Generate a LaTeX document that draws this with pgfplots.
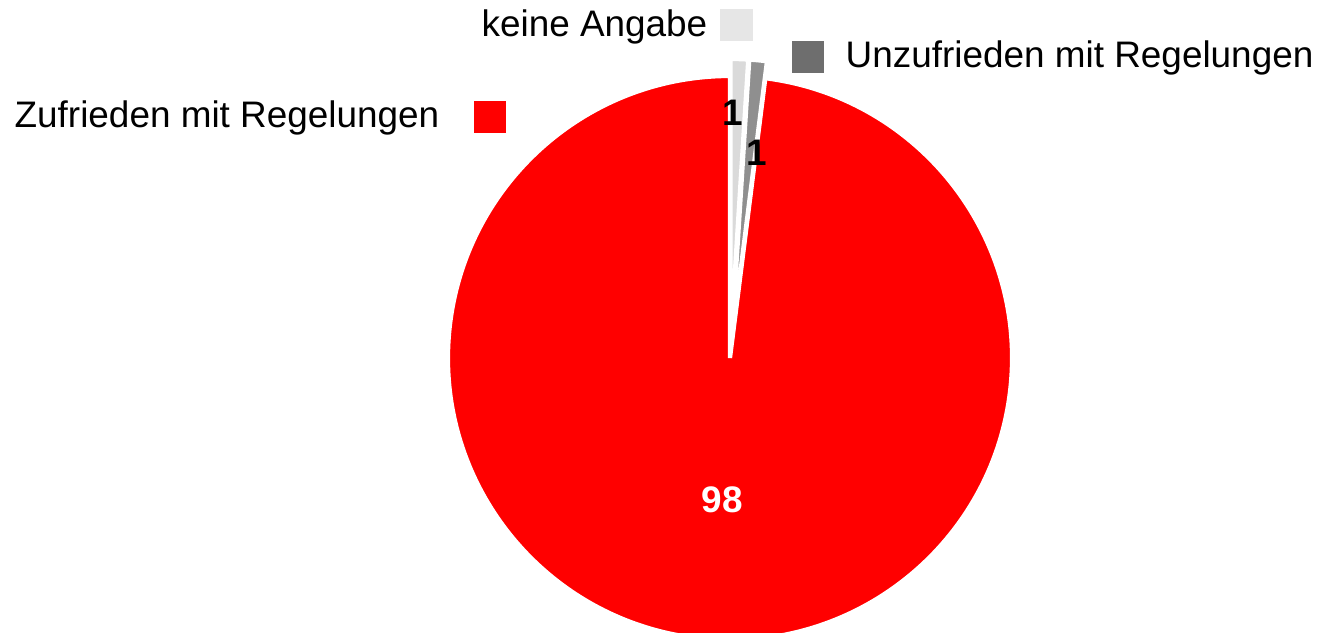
\documentclass[border=0pt]{standalone}
\usepackage{pgfplots}
\pgfplotsset{compat=1.18}
\usepackage{pgfplotstable}
\usepackage{fontspec}
\setmainfont{Liberation Sans}

\definecolor{zufrieden}{HTML}{FF0000}
\definecolor{unzufrieden}{HTML}{6E6E6E}
\definecolor{unzufriedenslice}{HTML}{8F8F8F}
\definecolor{keineangabe}{HTML}{E6E6E6}
\definecolor{keineangabeslice}{HTML}{DADADA}

% shares in percent, clockwise from 12 o'clock
\pgfplotstableread{
anteil
1
1
98
}\pietable

\pgfplotstablegetelem{0}{anteil}\of\pietable \let\vKA\pgfplotsretval
\pgfplotstablegetelem{1}{anteil}\of\pietable \let\vUN\pgfplotsretval
\pgfplotstablegetelem{2}{anteil}\of\pietable \let\vZU\pgfplotsretval

\pgfmathsetmacro{\aA}{90}
\pgfmathsetmacro{\aB}{\aA-3.6*\vKA}
\pgfmathsetmacro{\aC}{\aB-3.6*\vUN}
\pgfmathsetmacro{\aD}{\aC-3.6*\vZU}
\pgfmathsetmacro{\mA}{(\aA+\aB)/2}
\pgfmathsetmacro{\mB}{(\aB+\aC)/2}

\begin{document}
\begin{tikzpicture}
\begin{axis}[
    scale only axis,
    width=13.22cm, height=6.32cm,
    xmin=0, xmax=1322, ymin=0, ymax=632,
    y dir=reverse,
    hide axis,
    clip=true,
]
\addplot[draw=none] coordinates {(0,0) (1322,632)};

% Zufrieden (main slice)
\fill[zufrieden, draw=white, line width=1.2pt]
    (axis cs:730,358) -- ++(\aC:2.82cm)
    arc[start angle=\aC, end angle=\aD, radius=2.82cm] -- cycle;
% keine Angabe (exploded)
\fill[keineangabeslice, draw=white, line width=1.2pt]
    (axis cs:730,358) ++(\mA:0.17cm) -- ++(\aA:2.82cm)
    arc[start angle=\aA, end angle=\aB, radius=2.82cm] -- cycle;
% Unzufrieden (exploded)
\fill[unzufriedenslice, draw=white, line width=1.2pt]
    (axis cs:730,358) ++(\mB:0.17cm) -- ++(\aB:2.82cm)
    arc[start angle=\aB, end angle=\aC, radius=2.82cm] -- cycle;

% value labels
\node[font=\fontsize{10.5}{12}\selectfont\bfseries] at (axis cs:733,113) {\vKA};
\node[font=\fontsize{10.5}{12}\selectfont\bfseries] at (axis cs:757,153) {\vUN};
\node[font=\fontsize{10.5}{12}\selectfont\bfseries, white] at (axis cs:722,500) {\vZU};

% legend entries
\fill[keineangabe] (axis cs:720,9) rectangle (axis cs:753,41);
\node[anchor=east, inner sep=0pt, font=\fontsize{10.5}{12}\selectfont] at (axis cs:708,27) {keine Angabe};
\fill[unzufrieden] (axis cs:792,41) rectangle (axis cs:824,73);
\node[anchor=west, inner sep=0pt, font=\fontsize{10.5}{12}\selectfont] at (axis cs:845,58) {Unzufrieden mit Regelungen};
\fill[zufrieden] (axis cs:474,101) rectangle (axis cs:506,133);
\node[anchor=east, inner sep=0pt, font=\fontsize{10.5}{12}\selectfont] at (axis cs:440,118) {Zufrieden mit Regelungen};
\end{axis}
\pgfresetboundingbox
\useasboundingbox (current axis.south west) rectangle (current axis.north east);
\end{tikzpicture}
\end{document}
